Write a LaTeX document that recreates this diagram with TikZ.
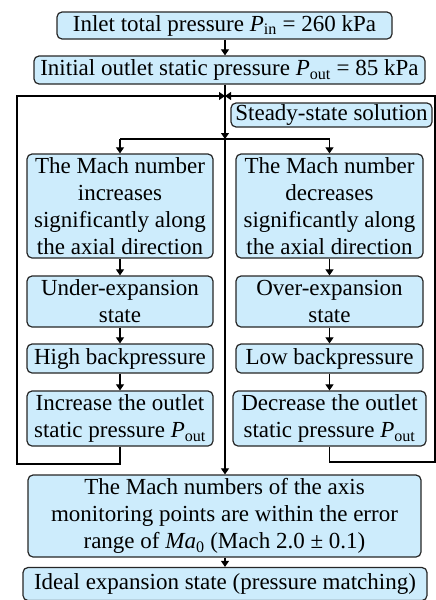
\documentclass[tikz,border=0pt]{standalone}
\usepackage{fontspec}
\setmainfont{Liberation Serif}
\usetikzlibrary{arrows.meta}
\definecolor{boxfill}{RGB}{205,236,252}
\begin{document}
\begin{tikzpicture}[x=1pt,y=-1pt,
  box/.style={draw=black!85, line width=1.2pt, fill=boxfill, rounded corners=5pt,
    align=center, inner sep=0pt, font=\fontsize{23}{27}\selectfont},
  conn/.style={line width=1.1pt, -{Triangle[length=6pt,width=8pt]}},
  plain/.style={line width=1.1pt}]
\useasboundingbox (0,0) rectangle (436,600);

\node[box, minimum width=335pt, minimum height=27pt] (b1) at (224.5,25.5)
  {Inlet total pressure \textit{P}\textsubscript{in} = 260 kPa};
\node[box, minimum width=391pt, minimum height=28pt] (b2) at (229.5,70)
  {Initial outlet static pressure \textit{P}\textsubscript{out} = 85 kPa};
\node[box, minimum width=201pt, minimum height=24pt] (ss) at (331.5,115)
  {Steady-state solution};

\node[box, minimum width=186pt, minimum height=104pt] (L1) at (120,206)
  {The Mach number\\increases\\significantly along\\the axial direction};
\node[box, minimum width=186pt, minimum height=51pt] (L2) at (120,301.5)
  {Under-expansion\\state};
\node[box, minimum width=186pt, minimum height=29pt] (L3) at (120,358.5)
  {High backpressure};
\node[box, minimum width=186pt, minimum height=55pt] (L4) at (120,418.5)
  {Increase the outlet\\static pressure \textit{P}\textsubscript{out}};

\node[box, minimum width=187pt, minimum height=104pt] (R1) at (329.5,206)
  {The Mach number\\decreases\\significantly along\\the axial direction};
\node[box, minimum width=187pt, minimum height=51pt] (R2) at (329.5,301.5)
  {Over-expansion\\state};
\node[box, minimum width=187pt, minimum height=29pt] (R3) at (329.5,358.5)
  {Low backpressure};
\node[box, minimum width=193pt, minimum height=55pt] (R4) at (329.5,418.5)
  {Decrease the outlet\\static pressure \textit{P}\textsubscript{out}};

\node[box, minimum width=393pt, minimum height=82pt] (big) at (224.5,516)
  {The Mach numbers of the axis\\monitoring points are within the error\\range of \textit{Ma}\textsubscript{0} (Mach 2.0 ± 0.1)};
\node[box, minimum width=404pt, minimum height=33pt] (last) at (225,584)
  {Ideal expansion state (pressure matching)};

\coordinate (mx) at (225,0);
\coordinate (lj) at (225,96);
\coordinate (bj) at (225,139);
\coordinate (lb) at (17,464);
\coordinate (rb) at (435,462);

\draw[conn] (b1.south -| mx) -- (b2.north -| mx);
\draw[conn] (b2.south -| mx) -- (bj);
\draw[conn] (bj) -- (big.north -| mx);
\draw[conn] (big.south -| mx) -- (last.north -| mx);

\draw[plain] (L1.north |- bj) -- (R1.north |- bj);
\draw[conn] (L1.north |- bj) -- (L1.north);
\draw[conn] (R1.north |- bj) -- (R1.north);

\draw[conn] (L1) -- (L2);
\draw[conn] (L2) -- (L3);
\draw[conn] (L3) -- (L4);
\draw[conn] (R1) -- (R2);
\draw[conn] (R2) -- (R3);
\draw[conn] (R3) -- (R4);

\draw[conn] (L4.south) |- (lb) |- (lj);
\draw[conn] (R4.south) |- (rb) |- (lj);
\end{tikzpicture}
\end{document}
